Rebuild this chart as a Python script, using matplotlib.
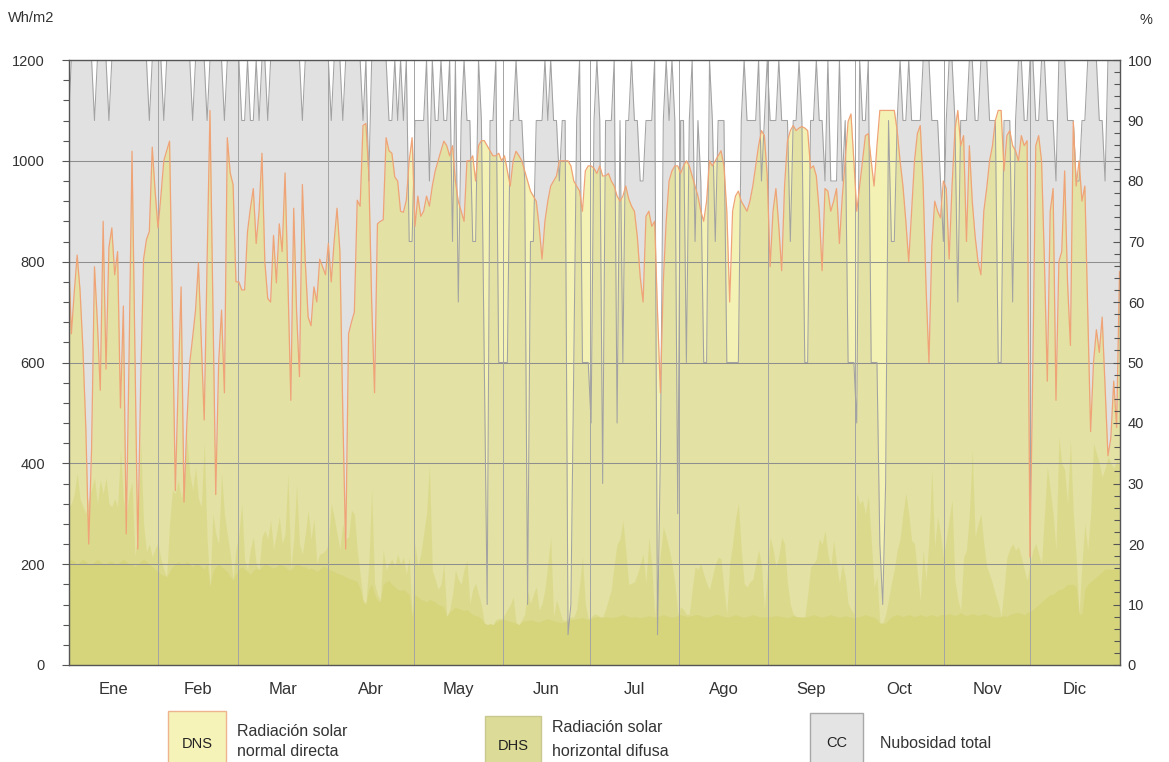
import numpy as np
import matplotlib
matplotlib.use("Agg")
import matplotlib.pyplot as plt
from matplotlib.patches import Rectangle
from matplotlib.ticker import MultipleLocator, FixedLocator

plt.rcParams["font.family"] = ["Liberation Sans Narrow", "Liberation Sans", "DejaVu Sans"]

# ---------------------------------------------------------------- data
months = ["Ene", "Feb", "Mar", "Abr", "May", "Jun", "Jul", "Ago", "Sep", "Oct", "Nov", "Dic"]
month_days = [31, 28, 31, 30, 31, 30, 31, 31, 30, 31, 30, 31]

# Radiación solar normal directa, máximo diario (Wh/m2), un renglón por mes
dns = [
    813, 657, 740, 813, 743, 626, 470, 240, 430, 790, 680, 545, 880, 587, 828, 867, 774, 820, 510, 712, 260, 620, 1019, 620, 230, 560, 805, 844, 860, 1027, 940,
    867, 930, 1000, 1020, 1039, 700, 346, 560, 750, 323, 480, 600, 650, 704, 797, 640, 486, 800, 1100, 720, 338, 600, 704, 540, 1046, 976, 953, 760,
    760, 744, 744, 860, 906, 945, 836, 900, 1015, 800, 727, 720, 852, 758, 875, 820, 976, 760, 525, 906, 700, 572, 953, 800, 690, 673, 750, 720, 805, 790, 774,
    836, 760, 840, 906, 820, 500, 230, 657, 680, 700, 922, 910, 1070, 1074, 976, 720, 540, 875, 880, 883, 1046, 1020, 1015, 968, 960, 900, 898, 922, 1000, 1046,
    870, 930, 890, 900, 930, 910, 950, 980, 1000, 1020, 1039, 1030, 1010, 1030, 960, 920, 900, 880, 1000, 1000, 1010, 960, 1030, 1040, 1040, 1030, 1020, 1010, 1010, 1015, 1000,
    1010, 980, 950, 1000, 1019, 1010, 1000, 980, 960, 940, 930, 920, 870, 805, 880, 920, 950, 960, 970, 1000, 1000, 1000, 1000, 990, 960, 950, 940, 900, 980, 990,
    990, 985, 975, 990, 970, 970, 975, 960, 950, 930, 920, 930, 950, 925, 910, 900, 850, 770, 720, 890, 900, 870, 880, 700, 540, 760, 880, 960, 980, 990, 990,
    975, 990, 1000, 990, 970, 950, 930, 900, 880, 920, 1000, 990, 1000, 1010, 1020, 990, 900, 720, 900, 930, 940, 920, 910, 900, 920, 950, 990, 1030, 1060, 1050, 970,
    790, 900, 945, 870, 782, 950, 1039, 1060, 1070, 1060, 1065, 1068, 1065, 1060, 985, 990, 970, 900, 782, 945, 940, 900, 920, 945, 836, 930, 1000, 1078, 1093, 1000,
    900, 950, 1000, 1050, 1054, 1000, 950, 1030, 1100, 1100, 1100, 1100, 1100, 1100, 1060, 1000, 950, 880, 800, 900, 1000, 1054, 1070, 950, 750, 600, 830, 920, 900, 887, 960,
    945, 805, 950, 1060, 1100, 1030, 1050, 840, 1030, 920, 850, 800, 774, 900, 945, 1000, 1030, 1080, 1100, 1100, 980, 1050, 1060, 1030, 1020, 1000, 1050, 1030, 1040, 214,
    600, 1030, 1050, 1000, 800, 563, 900, 945, 525, 800, 820, 980, 760, 634, 1078, 950, 1000, 920, 950, 700, 463, 600, 665, 620, 690, 550, 415, 450, 563, 471, 780,
]

# Radiación solar horizontal difusa, máximo diario (Wh/m2)
dhs = [
    315, 320, 340, 381, 330, 314, 300, 330, 350, 371, 320, 367, 340, 371, 320, 314, 330, 314, 426, 330, 297, 340, 364, 215, 260, 440, 280, 225, 240, 215, 230,
    242, 210, 190, 175, 280, 347, 340, 367, 330, 360, 453, 380, 347, 393, 330, 314, 440, 250, 155, 300, 260, 240, 380, 300, 260, 220, 169, 230,
    260, 320, 208, 189, 230, 254, 200, 189, 254, 267, 250, 287, 230, 260, 294, 241, 260, 380, 189, 250, 357, 240, 220, 260, 307, 250, 290, 202, 220, 222, 228,
    240, 320, 294, 260, 230, 280, 250, 254, 307, 300, 228, 180, 130, 122, 200, 347, 162, 140, 129, 228, 188, 201, 210, 195, 220, 200, 214, 180, 214, 96,
    241, 195, 220, 260, 300, 397, 188, 170, 150, 160, 201, 96, 109, 140, 188, 170, 160, 190, 208, 122, 150, 162, 140, 120, 83, 80, 82, 80, 90, 92, 92,
    100, 110, 120, 135, 83, 80, 90, 100, 148, 122, 140, 155, 109, 122, 150, 200, 254, 96, 129, 110, 90, 88, 92, 95, 95, 110, 160, 214, 120, 92,
    95, 101, 100, 96, 96, 110, 130, 150, 200, 240, 250, 287, 228, 160, 162, 165, 180, 200, 220, 162, 254, 200, 96, 150, 220, 274, 254, 230, 201, 162, 101,
    115, 110, 100, 101, 150, 195, 190, 201, 180, 162, 150, 175, 200, 214, 210, 150, 101, 200, 240, 290, 321, 230, 162, 155, 165, 170, 200, 228, 200, 109, 180,
    254, 230, 195, 215, 254, 240, 162, 120, 101, 96, 96, 96, 96, 140, 195, 201, 210, 250, 240, 267, 220, 195, 247, 200, 162, 201, 175, 122, 110, 101,
    341, 320, 327, 300, 335, 250, 155, 175, 83, 83, 100, 130, 162, 190, 228, 250, 300, 341, 300, 247, 241, 180, 129, 228, 168, 250, 387, 234, 294, 260, 214,
    250, 290, 327, 168, 130, 109, 214, 228, 300, 426, 254, 280, 300, 240, 195, 180, 162, 140, 122, 96, 150, 214, 230, 241, 228, 235, 214, 190, 168, 200,
    228, 241, 220, 201, 300, 393, 347, 300, 228, 453, 400, 387, 320, 446, 300, 214, 101, 200, 281, 228, 300, 440, 420, 400, 373, 390, 413, 400, 390, 406, 400,
]

# Franja inferior de difusa (Wh/m2)
dhs_base = [
    205, 210, 205, 200, 205, 210, 205, 200, 200, 205, 210, 205, 200, 200, 205, 205, 200, 200, 205, 210, 205, 200, 200, 195, 200, 205, 210, 205, 200, 195, 190,
    185, 180, 178, 175, 185, 195, 200, 205, 200, 200, 205, 200, 195, 200, 200, 195, 190, 200, 155, 185, 195, 200, 195, 190, 185, 175, 170, 180,
    190, 195, 190, 185, 180, 188, 192, 189, 195, 200, 198, 195, 192, 195, 200, 198, 195, 189, 190, 195, 200, 198, 195, 195, 190, 192, 190, 185, 190, 195, 195,
    190, 188, 185, 182, 180, 178, 175, 172, 170, 168, 165, 150, 125, 120, 150, 160, 140, 128, 125, 160, 165, 168, 160, 155, 150, 148, 150, 145, 140, 96,
    140, 135, 130, 128, 125, 130, 128, 125, 120, 118, 115, 96, 105, 110, 115, 112, 110, 108, 110, 105, 100, 98, 96, 92, 83, 80, 82, 80, 85, 88, 90,
    90, 88, 86, 85, 83, 80, 85, 88, 88, 90, 88, 86, 85, 88, 90, 92, 90, 88, 86, 85, 84, 86, 88, 90, 90, 92, 92, 95, 92, 90,
    92, 95, 96, 95, 94, 96, 95, 94, 95, 96, 98, 100, 98, 96, 95, 96, 95, 94, 95, 96, 98, 96, 95, 96, 98, 100, 98, 96, 95, 96, 98,
    100, 98, 96, 97, 98, 100, 100, 98, 96, 95, 96, 98, 100, 100, 98, 96, 95, 96, 98, 100, 98, 96, 95, 96, 98, 100, 98, 96, 95, 96, 95,
    96, 97, 98, 97, 96, 95, 94, 96, 98, 96, 95, 94, 95, 96, 98, 100, 98, 96, 95, 96, 98, 100, 98, 96, 95, 96, 98, 96, 95, 94,
    95, 96, 98, 100, 98, 96, 95, 90, 85, 83, 83, 90, 95, 98, 100, 98, 96, 98, 100, 98, 96, 98, 100, 98, 96, 98, 100, 98, 96, 100, 100,
    100, 102, 100, 98, 100, 104, 100, 98, 100, 102, 100, 98, 100, 102, 100, 98, 96, 95, 96, 96, 98, 96, 100, 102, 104, 104, 102, 100, 104, 106,
    110, 115, 120, 125, 130, 135, 140, 140, 145, 150, 150, 155, 160, 160, 160, 155, 150, 101, 150, 160, 165, 170, 175, 180, 185, 190, 190, 190, 190, 190, 190,
]

# Nubosidad total (%)
cc = [
    90, 100, 100, 100, 100, 100, 100, 100, 100, 90, 100, 100, 100, 100, 90, 100, 100, 100, 100, 100, 100, 100, 100, 100, 100, 100, 100, 100, 90, 100, 100,
    100, 100, 90, 100, 100, 100, 100, 100, 100, 100, 100, 100, 90, 100, 100, 100, 100, 90, 100, 100, 100, 100, 100, 90, 100, 100, 100, 100,
    100, 90, 90, 100, 90, 90, 100, 90, 100, 100, 90, 100, 100, 100, 100, 100, 100, 100, 100, 100, 100, 100, 90, 100, 100, 100, 100, 100, 100, 100, 100,
    100, 90, 100, 100, 100, 90, 100, 100, 100, 100, 100, 100, 90, 100, 80, 100, 100, 100, 100, 100, 100, 90, 90, 100, 90, 100, 90, 100, 70, 70,
    90, 90, 90, 90, 100, 80, 100, 90, 90, 100, 90, 90, 100, 70, 100, 60, 90, 100, 90, 90, 70, 70, 100, 90, 50, 10, 90, 90, 100, 50, 50,
    50, 50, 90, 90, 100, 90, 90, 80, 10, 70, 70, 90, 90, 90, 100, 90, 100, 90, 90, 80, 90, 90, 5, 10, 50, 90, 100, 50, 50, 50,
    40, 90, 100, 90, 30, 90, 90, 90, 100, 40, 90, 50, 90, 90, 100, 90, 90, 80, 80, 90, 90, 90, 100, 5, 35, 90, 100, 90, 100, 90, 25,
    90, 90, 50, 90, 100, 70, 90, 80, 50, 50, 100, 90, 70, 90, 90, 90, 50, 50, 50, 50, 50, 90, 100, 90, 90, 90, 90, 100, 80, 90, 100,
    90, 90, 90, 100, 90, 90, 90, 70, 90, 90, 100, 90, 50, 50, 90, 90, 100, 90, 90, 80, 100, 80, 80, 80, 100, 80, 90, 50, 50, 50,
    40, 100, 90, 90, 100, 50, 50, 50, 20, 10, 30, 90, 70, 70, 90, 100, 90, 90, 100, 90, 90, 90, 90, 100, 100, 100, 90, 90, 90, 80, 70,
    90, 100, 100, 90, 60, 90, 90, 90, 100, 100, 90, 90, 100, 100, 100, 90, 90, 90, 50, 50, 90, 90, 90, 60, 90, 100, 100, 90, 90, 100,
    100, 90, 90, 100, 100, 90, 90, 90, 80, 100, 100, 100, 90, 90, 90, 80, 80, 90, 90, 100, 100, 100, 100, 90, 90, 80, 100, 100, 100, 100, 100,
]

left_ticks = [0, 200, 400, 600, 800, 1000, 1200]
right_ticks = [0, 10, 20, 30, 40, 50, 60, 70, 80, 90, 100]

# ---------------------------------------------------------------- figure
W, H = 1169, 762
fig = plt.figure(figsize=(W / 100, H / 100), dpi=100)
fig.patch.set_facecolor("white")
ax = fig.add_axes([68.5 / W, 1 - 665 / H, 1051 / W, 605 / H])

n = len(dns)
x = np.linspace(0, 365, n)
dns_a = np.array(dns, float)
dhs_a = np.array(dhs, float)
base_a = np.minimum(np.array(dhs_base, float), dhs_a)
cc_wh = np.array(cc, float) * 12.0  # 100 % -> 1200 on the left scale

ax.fill_between(x, 0, cc_wh, color="#e1e1e1", lw=0, zorder=1)
ax.fill_between(x, 0, dns_a, color="#e7e35e", alpha=0.47, lw=0, zorder=2)
ax.fill_between(x, 0, dhs_a, color="#d4d376", alpha=0.5, lw=0, zorder=3)
ax.fill_between(x, 0, base_a, color="#d6d57c", lw=0, zorder=4)

# grid: horizontal every 200, vertical at month boundaries
for v in left_ticks[1:-1]:
    ax.axhline(v, color="#8e8e8e", lw=0.75, zorder=5)
bounds = np.cumsum(month_days)[:-1]
for b in bounds:
    ax.axvline(b, color="#a4a4a4", lw=0.7, zorder=5)

ax.plot(x, cc_wh, color="#a2a2a2", lw=0.75, zorder=6)
ax.plot(x, dns_a, color="#efa376", lw=0.9, zorder=7)

ax.set_xlim(0, 365)
ax.set_ylim(0, 1200)

for s in ax.spines.values():
    s.set_color("#555555")
    s.set_linewidth(1.0)
    s.set_zorder(8)

# left axis
ax.yaxis.set_major_locator(FixedLocator(left_ticks))
ax.yaxis.set_minor_locator(MultipleLocator(40))
ax.tick_params(axis="y", which="major", direction="out", length=5, width=0.8,
               color="#555555", labelsize=10.5, labelcolor="#333333", pad=12)
ax.tick_params(axis="y", which="minor", direction="out", length=4, width=0.8, color="#555555")

# bottom axis: week ticks inside, month names centred
starts = np.concatenate([[0], np.cumsum(month_days)[:-1]])
week_pos = [s + d - 0.5 for s, md in zip(starts, month_days) for d in (7, 14, 21, 28) if d <= md]
centres = starts + np.array(month_days) / 2.0
ax.xaxis.set_major_locator(FixedLocator(centres))
ax.set_xticklabels(months)
ax.xaxis.set_minor_locator(FixedLocator(week_pos))
ax.tick_params(axis="x", which="major", length=0, labelsize=12, labelcolor="#333333", pad=12)
ax.tick_params(axis="x", which="minor", direction="in", length=4, width=0.8, color="#555555")

# right axis (%)
ax2 = ax.twinx()
ax2.set_ylim(0, 100)
ax2.yaxis.set_major_locator(FixedLocator(right_ticks))
ax2.yaxis.set_minor_locator(MultipleLocator(2))
ax2.tick_params(axis="y", which="major", direction="in", length=5, width=0.8,
                color="#555555", labelsize=10.5, labelcolor="#333333", pad=6)
ax2.tick_params(axis="y", which="minor", direction="in", length=4, width=0.8, color="#555555")
for s in ax2.spines.values():
    s.set_visible(False)

fig.text(8 / W, 1 - 18 / H, "Wh/m2", fontsize=10.5, color="#333333", ha="left", va="center")
fig.text(1140 / W, 1 - 20 / H, "%", fontsize=10.5, color="#333333", ha="left", va="center")

# legend
def box(x0, y0, x1, y1, face, edge, code, ty):
    fig.patches.append(Rectangle((x0 / W, 1 - y1 / H), (x1 - x0) / W, (y1 - y0) / H,
                                 transform=fig.transFigure, facecolor=face,
                                 edgecolor=edge, lw=1.0))
    fig.text((x0 + x1) / 2 / W, 1 - ty / H, code, fontsize=10.5, color="#222222",
             ha="center", va="center")

box(168, 711, 226, 770, "#f6f3b9", "#efb48e", "DNS", 744)
fig.text(237 / W, 1 - 731 / H, "Radiación solar", fontsize=11.5, color="#333333", va="center")
fig.text(237 / W, 1 - 752 / H, "normal directa", fontsize=11.5, color="#333333", va="center")

box(485, 716, 541, 770, "#dcdc98", "#c9c890", "DHS", 746)
fig.text(552 / W, 1 - 727 / H, "Radiación solar", fontsize=11.5, color="#333333", va="center")
fig.text(552 / W, 1 - 752 / H, "horizontal difusa", fontsize=11.5, color="#333333", va="center")

box(810, 713, 863, 770, "#e4e4e4", "#a8a8a8", "CC", 743)
fig.text(880 / W, 1 - 744 / H, "Nubosidad total", fontsize=11.5, color="#333333", va="center")

fig.savefig("out.png", dpi=100, facecolor="white")
